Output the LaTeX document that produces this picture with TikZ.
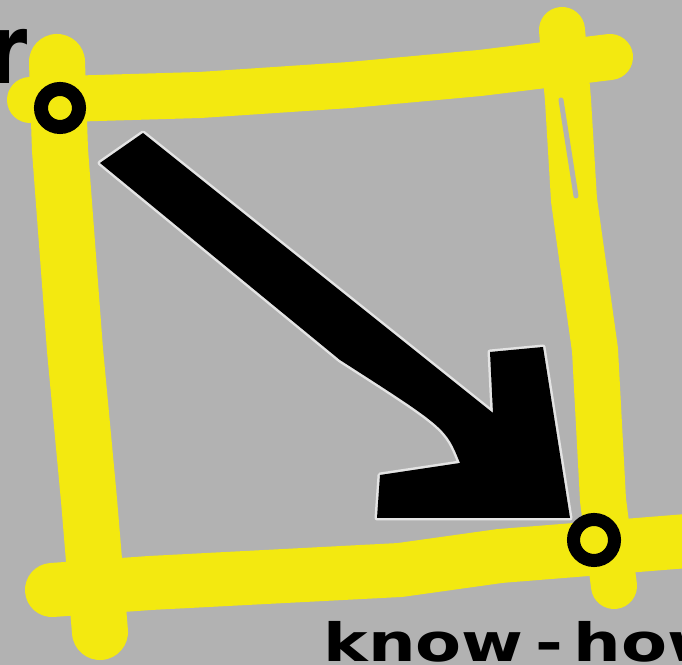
\documentclass[tikz,border=0pt]{standalone}
\usepackage{fontspec}
\newfontfamily\signfont{DejaVu Sans}
\usepackage{tikz}
\usetikzlibrary{calc}
\definecolor{paper}{RGB}{178,178,178}
\definecolor{marker}{RGB}{243,233,16}
\definecolor{halo}{RGB}{228,228,228}

\begin{document}
\begin{tikzpicture}[
  x=0.01cm, y=-0.01cm,
  paint/.style = {line width=#1, draw=marker, line cap=round, line join=round},
  ring/.style = {circle, draw=black, line width=0.14cm, minimum size=0.38cm, inner sep=0pt},
  signtext/.style = {inner sep=0pt, font=\signfont\bfseries}
]

% Background
\useasboundingbox (0,0) rectangle (682,665);
\clip (0,0) rectangle (682,665);
\fill[paper] (0,0) rectangle (682,665);

% Yellow frame
\draw[paint=0.46cm] (30,100) -- (200,95) -- (350,85) -- (480,73) -- (610,57);
\draw[paint=0.56cm] (57,62) -- (60,150) -- (75,350) -- (89,500) -- (100,632);
\draw[paint=0.46cm] (562,30) -- (568,100) -- (574,200) -- (595,350) -- (603,500) -- (614,586);
\draw[paint=0.54cm] (52,590) -- (150,583) -- (400,570) -- (500,556) -- (600,548) -- (700,540);
\draw[paper, line width=0.05cm, line cap=round] (561,100) -- (576,196);

% Arrow
\path[fill=black, preaction={draw=halo, line width=0.05cm, line join=round}]
  (143,133) -- (493,413) -- (490,352) -- (543,347) -- (570,518) -- (377,518)
  -- (380,475) -- (460,463) .. controls (446,428) .. (340,360) -- (100,163) -- cycle;

% Nodes
\node[ring] (origin) at (60,108) {};
\node[ring, minimum size=0.41cm, line width=0.13cm] (target) at (594,540) {};

% Texts
\node[signtext, anchor=base east] (letter) at (28,84) {\fontsize{27.5}{30}\selectfont\scalebox{0.8}[1]{r}};
\node[signtext, anchor=base west] (phrase) at (323,662) {\fontsize{15}{18}\selectfont\scalebox{1.27}[1]{know\,-\,how}};

\end{tikzpicture}
\end{document}
